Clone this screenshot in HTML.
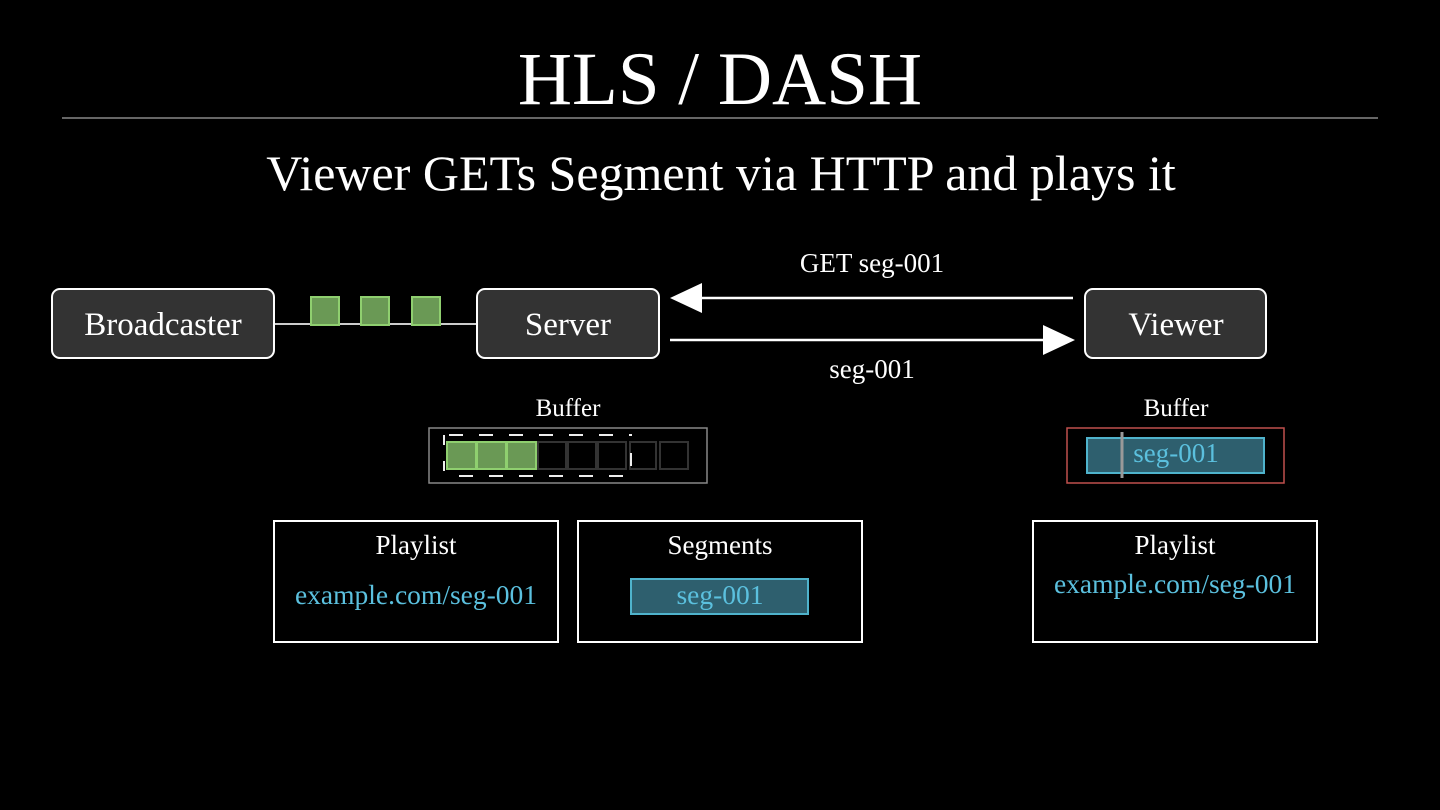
<!DOCTYPE html>
<html><head><meta charset="utf-8"><style>
html,body{margin:0;padding:0;background:#000;width:1440px;height:810px;overflow:hidden}
svg{display:block}
text{font-family:"Liberation Serif",serif}
</style></head><body>
<svg width="1440" height="810" viewBox="0 0 1440 810" xmlns="http://www.w3.org/2000/svg">
<rect width="1440" height="810" fill="#000"/>
<text x="720" y="104" fill="#fff" font-size="75" text-anchor="middle">HLS / DASH</text>
<line x1="62" y1="118" x2="1378" y2="118" stroke="#888" stroke-width="1.5"/>
<text x="721" y="190" fill="#fff" font-size="50" text-anchor="middle">Viewer GETs Segment via HTTP and plays it</text>

<line x1="274" y1="324" x2="477" y2="324" stroke="#ccc" stroke-width="2"/>
<g fill="#6a9955" stroke="#8fcf6f" stroke-width="2">
<rect x="311" y="297" width="28" height="28"/>
<rect x="361" y="297" width="28" height="28"/>
<rect x="412" y="297" width="28" height="28"/>
</g>
<g fill="#333" stroke="#fff" stroke-width="2">
<rect x="52" y="289" width="222" height="69" rx="8"/>
<rect x="477" y="289" width="182" height="69" rx="8"/>
<rect x="1085" y="289" width="181" height="69" rx="8"/>
</g>
<g fill="#fff" font-size="33" text-anchor="middle">
<text x="163" y="335">Broadcaster</text>
<text x="568" y="335">Server</text>
<text x="1176" y="335">Viewer</text>
</g>

<line x1="700" y1="298" x2="1073" y2="298" stroke="#fff" stroke-width="2.5"/>
<polygon points="670,298 702,283 702,313" fill="#fff"/>
<line x1="670" y1="340" x2="1044" y2="340" stroke="#fff" stroke-width="2.5"/>
<polygon points="1075,340 1043,325 1043,355" fill="#fff"/>
<text x="872" y="272" fill="#fff" font-size="27" text-anchor="middle">GET seg-001</text>
<text x="872" y="378" fill="#fff" font-size="27" text-anchor="middle">seg-001</text>

<text x="568" y="416" fill="#fff" font-size="25" text-anchor="middle">Buffer</text>
<rect x="429" y="428" width="278" height="55" fill="none" stroke="#888" stroke-width="1.5"/>
<g stroke-width="2">
<rect x="447" y="442" width="29" height="27" fill="#6a9955" stroke="#8fcf6f"/>
<rect x="477" y="442" width="29" height="27" fill="#6a9955" stroke="#8fcf6f"/>
<rect x="507" y="442" width="29" height="27" fill="#6a9955" stroke="#8fcf6f"/>
<rect x="538" y="442" width="28" height="27" fill="none" stroke="#333"/>
<rect x="568" y="442" width="28" height="27" fill="none" stroke="#333"/>
<rect x="598" y="442" width="28" height="27" fill="none" stroke="#333"/>
<rect x="630" y="442" width="26" height="27" fill="none" stroke="#333"/>
<rect x="660" y="442" width="28" height="27" fill="none" stroke="#333"/>
</g>
<line x1="449" y1="435" x2="632" y2="435" stroke="#eee" stroke-width="2" stroke-dasharray="14,16"/>
<line x1="459" y1="476" x2="630" y2="476" stroke="#eee" stroke-width="2" stroke-dasharray="14,16"/>
<line x1="444" y1="435" x2="444" y2="476" stroke="#eee" stroke-width="2" stroke-dasharray="10,16"/>
<line x1="631" y1="453" x2="631" y2="466" stroke="#eee" stroke-width="2"/>

<text x="1176" y="416" fill="#fff" font-size="25" text-anchor="middle">Buffer</text>
<rect x="1067" y="428" width="217" height="55" fill="none" stroke="#c0504d" stroke-width="1.5"/>
<rect x="1087" y="438" width="177" height="35" fill="#2e5f6e" stroke="#4fb3cc" stroke-width="2"/>
<line x1="1122" y1="432" x2="1122" y2="478" stroke="#999" stroke-width="3"/>
<text x="1176" y="462" fill="#5bc0de" font-size="27" text-anchor="middle">seg-001</text>

<g fill="none" stroke="#fff" stroke-width="2">
<rect x="274" y="521" width="284" height="121"/>
<rect x="578" y="521" width="284" height="121"/>
<rect x="1033" y="521" width="284" height="121"/>
</g>
<g fill="#fff" font-size="27" text-anchor="middle">
<text x="416" y="554">Playlist</text>
<text x="720" y="554">Segments</text>
<text x="1175" y="554">Playlist</text>
</g>
<rect x="631" y="579" width="177" height="35" fill="#2e5f6e" stroke="#4fb3cc" stroke-width="2"/>
<g fill="#5bc0de" font-size="27.5" text-anchor="middle">
<text x="416" y="604">example.com/seg-001</text>
<text x="720" y="604">seg-001</text>
<text x="1175" y="593">example.com/seg-001</text>
</g>
</svg>
</body></html>
